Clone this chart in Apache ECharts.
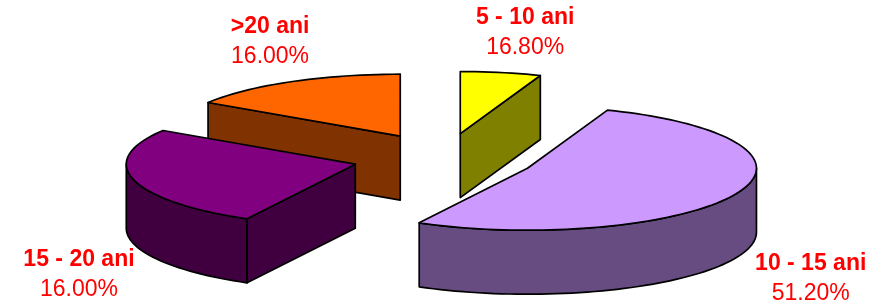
<!DOCTYPE html>
<html>
<head>
<meta charset="utf-8">
<script src="https://cdn.jsdelivr.net/npm/echarts@6/dist/echarts.min.js"></script>
<style>
html, body { margin: 0; padding: 0; background: #fff; }
#main { width: 870px; height: 307px; }
</style>
</head>
<body>
<div id="main"></div>
<script>
// grupe de vechime
const categories = ['5 - 10 ani', '10 - 15 ani', '15 - 20 ani', '>20 ani']
const values = [16.8, 51.2, 16.0, 16.0]
const topColors = ['#FFFF00', '#CC99FF', '#800080', '#FF6600']
const sideColors = ['#808000', '#664C80', '#400040', '#803300']

const total = values.reduce((a, b) => a + b, 0)
const starts = []
let acc = 0
values.forEach(v => { starts.push(acc); acc += v })

// aspect 3D (elipsa, grosime, explodare)
const view = { cx: 444, cy: 158, rx: 229, ry: 62, depth: 64, explode: 0.4, skew: -46, skewAt: 60.5 }

const rad = d => d * Math.PI / 180
const toDeg = v => v / total * 360
// distorsiunea de perspectiva a graficului 3D original
function warp (deg) {
  return deg + view.skew * (Math.sin(rad(deg - view.skewAt)) + Math.sin(rad(view.skewAt)))
}
function rim (p, deg, dy) {
  return [p[0] + view.rx * Math.sin(rad(deg)), p[1] - view.ry * Math.cos(rad(deg)) + (dy || 0)]
}
function arcPts (p, a1, a2, dy) {
  const pts = []
  const n = Math.max(2, Math.ceil(Math.abs(a2 - a1) / 2))
  for (let i = 0; i <= n; i++) pts.push(rim(p, a1 + (a2 - a1) * i / n, dy))
  return pts
}
const edge = { stroke: '#000', lineWidth: 1.7, lineJoin: 'round' }

function renderItem (params, api) {
  const i = params.dataIndex
  const a1 = warp(toDeg(starts[i]))
  const a2 = warp(toDeg(starts[i] + api.value(0)))
  const mid = (a1 + a2) / 2
  const p = [view.cx + view.explode * view.rx * Math.sin(rad(mid)),
    view.cy - view.explode * view.ry * Math.cos(rad(mid))]
  const h = view.depth
  // feliile din spate se deseneaza primele
  let z = Math.round(p[1]) * 10
  const children = []
  // peretele din fata
  const w1 = Math.max(a1, 90)
  const w2 = Math.min(a2, 270)
  if (w2 > w1) {
    const pts = arcPts(p, w1, w2, 0).concat(arcPts(p, w2, w1, h))
    children.push({ type: 'polygon', z2: z++, shape: { points: pts }, style: Object.assign({ fill: sideColors[i] }, edge) })
  }
  // fetele taiate
  const cut = a => {
    const r = rim(p, a)
    children.push({
      type: 'polygon',
      z2: z++,
      shape: { points: [p, r, [r[0], r[1] + h], [p[0], p[1] + h]] },
      style: Object.assign({ fill: sideColors[i] }, edge)
    })
  }
  if (Math.sin(rad(a1)) < -0.001) cut(a1)
  if (Math.sin(rad(a2)) > 0.001) cut(a2)
  // fata de sus
  children.push({
    type: 'polygon',
    z2: z++,
    shape: { points: [p].concat(arcPts(p, a1, a2, 0)) },
    style: Object.assign({ fill: topColors[i] }, edge)
  })
  // eticheta
  const s = Math.sin(rad(mid))
  const c = Math.cos(rad(mid))
  const lx = p[0] + 1.3 * view.rx * s + 12
  const ly = c < 0 ? p[1] + h + 46 : p[1] - view.ry * c - 40
  const pct = (api.value(0) / total * 100).toFixed(2) + '%'
  const txt = (t, y, bold) => ({
    type: 'text',
    z2: 9000,
    style: {
      text: t, x: lx, y: y, align: 'center', verticalAlign: 'middle',
      fill: '#FF0000', fontSize: 23, fontWeight: bold ? 'bold' : 'normal',
      fontFamily: '"Liberation Sans", Arial, sans-serif'
    }
  })
  children.push(txt(categories[i], ly - 15, true))
  children.push(txt(pct, ly + 15, false))
  return { type: 'group', children }
}

const chart = echarts.init(document.getElementById('main'))
chart.setOption({
  backgroundColor: '#fff',
  animation: false,
  series: [{
    type: 'custom',
    coordinateSystem: 'none',
    renderItem: renderItem,
    data: values.map(v => [v])
  }]
})
</script>
</body>
</html>
